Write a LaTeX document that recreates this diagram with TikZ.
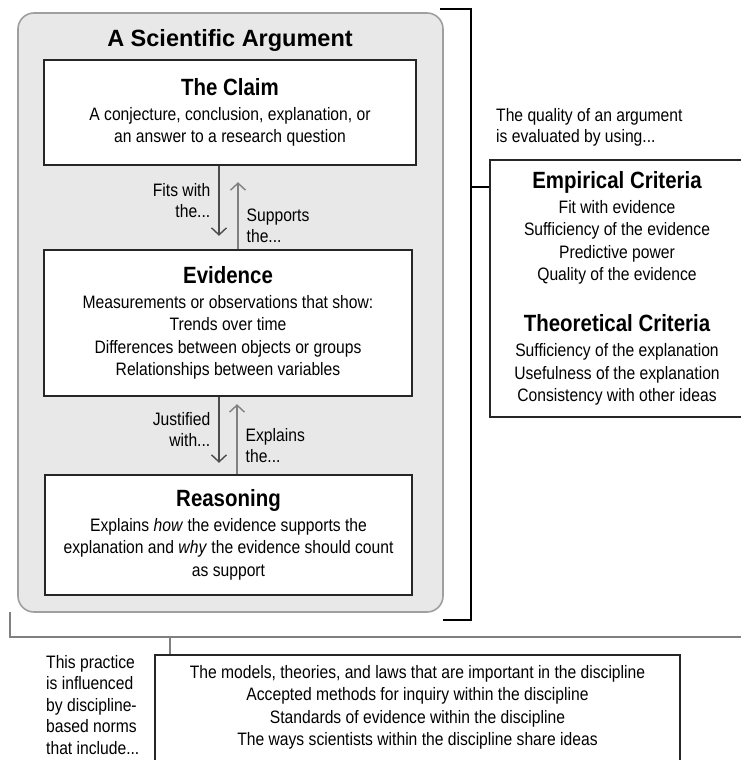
\documentclass[tikz,border=0pt]{standalone}
\usepackage{fontspec}
\setmainfont{Liberation Sans}
\newfontfamily\narrowfont{Liberation Sans}[FakeStretch=0.87]
\usetikzlibrary{arrows.meta, calc}

\newcommand{\boxtitle}[1]{{\fontsize{23.5}{26}\selectfont\bfseries #1}}

\tikzset{
	panel/.style = {draw = gray!75, line width = 1.6pt, fill = gray!18, rounded corners = 16pt},
	partbox/.style = {draw = black!85, line width = 1.6pt, fill = white, align = center,
		inner sep = 0pt, font = \narrowfont\fontsize{18}{22.5}\selectfont},
	tag/.style = {font = \narrowfont\fontsize{18}{21}\selectfont, inner sep = 8pt},
	link/.style = {line width = 1.4pt, -{Straight Barb[length = 7pt, width = 15pt]}},
	bracket/.style = {line width = 1.4pt}
}

\begin{document}
\begin{tikzpicture}[x = 1pt, y = -1pt]
			\useasboundingbox (0, 0) rectangle (741, 760);
			% the argument itself
			\node[panel, minimum width = 425pt, minimum height = 599pt] (argument) at (230.5, 312.5) {};
			\node (title) at (230, 40) {\boxtitle{A Scientific Argument}};
			\node[partbox, minimum width = 372pt, minimum height = 105pt] (claim) at (230, 112.5)
				{\boxtitle{The Claim}\\[2pt] A conjecture, conclusion, explanation, or\\ an answer to a research question};
			\node[partbox, minimum width = 368pt, minimum height = 146pt] (evidence) at (228, 323)
				{\boxtitle{Evidence}\\[2pt] Measurements or observations that show:\\ Trends over time\\
				 Differences between objects or groups\\ Relationships between variables};
			\node[partbox, minimum width = 367pt, minimum height = 120pt] (reasoning) at (228.5, 535)
				{\boxtitle{Reasoning}\\[2pt] Explains \emph{how} the evidence supports the\\
				 explanation and \emph{why} the evidence should count\\ as support};
			\draw[link, draw = black!70] ($(claim.south) + (-11, 0)$) -- ++(0, 70)
				node[tag, midway, left, align = right] {Fits with\\ the...};
			\draw[link, draw = black!50] ($(evidence.north) + (10, 0)$) -- ++(0, -67)
				node[tag, pos = 0.35, right, align = left] {Supports\\ the...};
			\draw[link, draw = black!70] ($(evidence.south) + (-9, 0)$) -- ++(0, 66)
				node[tag, midway, left, align = right] {Justified\\ with...};
			\draw[link, draw = black!50] ($(reasoning.north) + (8.5, 0)$) -- ++(0, -70)
				node[tag, pos = 0.41, right, align = left] {Explains\\ the...};
			% criteria on the right
			\node[tag, anchor = west, align = left, inner sep = 0pt] (quality) at (496, 127.5)
				{The quality of an argument\\ is evaluated by using...};
			\node[partbox, minimum width = 254pt, minimum height = 257pt] (criteria) at (617, 288.5)
				{\boxtitle{Empirical Criteria}\\[2pt] Fit with evidence\\ Sufficiency of the evidence\\
				 Predictive power\\ Quality of the evidence\\[28pt]
				 \boxtitle{Theoretical Criteria}\\[3pt] Sufficiency of the explanation\\
				 Usefulness of the explanation\\ Consistency with other ideas};
			\draw[bracket] (440, 9) -| (471, 620) -- (443, 620);
			\coordinate (ebar) at (471, 187);
			\draw[bracket] (ebar) -- (ebar -| criteria.west);
			% norms at the bottom
			\node[partbox, minimum width = 525pt, minimum height = 115pt] (norms) at (417.5, 712.5)
				{The models, theories, and laws that are important in the discipline\\
				 Accepted methods for inquiry within the discipline\\
				 Standards of evidence within the discipline\\
				 The ways scientists within the discipline share ideas\\[-8pt] \mbox{}};
			\node[anchor = west, align = left, inner sep = 0pt, font = \narrowfont\fontsize{18}{21.5}\selectfont]
				(practice) at (46, 705) {This practice\\ is influenced\\ by discipline-\\ based norms\\ that include...};
			\draw[bracket, draw = gray] (10, 612) |- (745, 637);
			\coordinate (nbar) at (170, 637);
			\draw[bracket, draw = gray] (nbar) -- (nbar |- norms.north);
		\end{tikzpicture}
\end{document}
